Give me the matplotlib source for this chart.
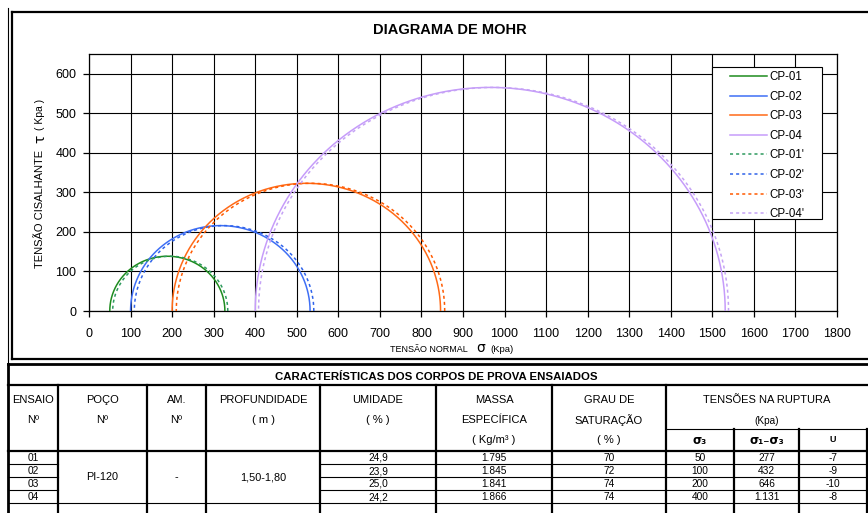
import numpy as np
import matplotlib
matplotlib.use("Agg")
import matplotlib.pyplot as plt
from matplotlib.patches import Rectangle

plt.rcParams['font.family'] = ['Liberation Sans', 'DejaVu Sans']

# ---- ensaios triaxiais ----
ensaios = ["01", "02", "03", "04"]
poco = "PI-120"
amostra = "-"
profundidade = "1,50-1,80"
umidade = [24.9, 23.9, 25.0, 24.2]
massa_especifica = [1795, 1845, 1841, 1866]
grau_saturacao = [70, 72, 74, 74]
sigma3 = [50, 100, 200, 400]            # kPa
desviadora = [277, 432, 646, 1131]      # sigma1 - sigma3, kPa
poropressao = [-7, -9, -10, -8]         # u, kPa

rotulos_totais = ["CP-01", "CP-02", "CP-03", "CP-04"]
rotulos_efetivos = ["CP-01'", "CP-02'", "CP-03'", "CP-04'"]
cores_totais = ["#1e8c1e", "#3f6ff5", "#ff6a17", "#c69cfa"]
cores_efetivas = ["#2e9a5e", "#2f63ea", "#ff5a00", "#c5a3f5"]

W, H = 868, 513
fig = plt.figure(figsize=(W / 100, H / 100), dpi=100)


def fx(px):
    return px / W


def fy(py):
    return 1 - py / H


# canvas in pixel units for frames and the table
bg = fig.add_axes([0, 0, 1, 1])
bg.set_xlim(0, W)
bg.set_ylim(H, 0)
bg.axis("off")

THICK = 1.6
THIN = 0.8

# outer frame of the chart block
bg.plot([8, 8], [8, 364], color="black", lw=THIN)
bg.plot([12, 12], [12, 359], color="black", lw=THICK)
bg.plot([12, W], [12, 12], color="black", lw=THICK)
bg.plot([12, W], [359, 359], color="black", lw=THICK)

# ---- Mohr diagram ----
ax = fig.add_axes([fx(89), fy(311), fx(837) - fx(89), fy(54) - fy(311)])
theta = np.linspace(0, np.pi, 500)
handles = []
for s3, d, c, lab in zip(sigma3, desviadora, cores_totais, rotulos_totais):
    centro, raio = s3 + d / 2, d / 2
    h, = ax.plot(centro + raio * np.cos(theta), raio * np.sin(theta),
                 color=c, lw=1.1, label=lab, zorder=3)
    handles.append(h)
for s3, d, u, c, lab in zip(sigma3, desviadora, poropressao,
                            cores_efetivas, rotulos_efetivos):
    s3_ef = s3 - u
    centro, raio = s3_ef + d / 2, d / 2
    h, = ax.plot(centro + raio * np.cos(theta), raio * np.sin(theta),
                 color=c, lw=1.1, ls=(0, (2, 2)), label=lab, zorder=3)
    handles.append(h)

ax.set_xlim(0, 1800)
ax.set_ylim(0, 650)
ax.set_xticks(np.arange(0, 1801, 100))
ax.set_yticks(np.arange(0, 601, 100))
ax.grid(True, color="black", lw=0.8)
ax.set_axisbelow(True)
for sp in ax.spines.values():
    sp.set_color("black")
    sp.set_linewidth(0.9)
ax.tick_params(axis="both", direction="out", length=4, width=0.9,
               labelsize=9, colors="black")
ax.tick_params(axis="x", pad=8)
ax.tick_params(axis="y", pad=5)

# legend box
frame = Rectangle((fx(712), fy(219)), fx(822) - fx(712), fy(67) - fy(219),
                  transform=fig.transFigure, facecolor="white",
                  edgecolor="black", lw=0.8, zorder=4)
ax.add_artist(frame)
frame.set_clip_on(False)
leg = ax.legend(handles=handles, loc="upper left",
                bbox_to_anchor=(fx(730), fy(71)),
                bbox_transform=fig.transFigure, frameon=False,
                fontsize=8.3, borderpad=0, borderaxespad=0,
                handlelength=3.2, handletextpad=0.2, labelspacing=0.66)
leg.set_zorder(5)

fig.text(fx(450), fy(30), "DIAGRAMA DE MOHR", ha="center", va="center",
         fontsize=10.5, fontweight="bold")

# axis titles
fig.text(fx(468), fy(349), "TENSÃO NORMAL", ha="right", va="center",
         fontsize=6.5)
fig.text(fx(481), fy(348), "σ", ha="center", va="center", fontsize=10,
         family=["DejaVu Sans"])
fig.text(fx(490), fy(349), "(Kpa)", ha="left", va="center", fontsize=6.8)

fig.text(fx(40), fy(268), "TENSÃO CISALHANTE", ha="center", va="bottom",
         rotation=90, fontsize=8)
fig.text(fx(40), fy(139), "τ", ha="center", va="center", rotation=90,
         fontsize=10, family=["DejaVu Sans"])
fig.text(fx(40), fy(130), "( Kpa )", ha="center", va="bottom", rotation=90,
         fontsize=7.5)

# ---- table of specimens ----
cols = [8, 58, 147, 206, 320, 436, 552, 666, 734, 799, 867]
t_top, t_title, t_sub, t_data = 364, 385, 429, 451
row_h = 13
rows = [t_data + i * row_h for i in range(len(ensaios) + 1)]
t_bot = H

bg.plot([8, W], [t_top, t_top], color="black", lw=THICK + 0.4)
bg.plot([8, W], [t_title, t_title], color="black", lw=THICK)
bg.plot([8, W], [t_data, t_data], color="black", lw=THICK)
bg.plot([cols[7], W], [t_sub, t_sub], color="black", lw=THIN)
bg.plot([8, 8], [t_top, t_bot], color="black", lw=THICK + 0.4)
for x in cols[1:8]:
    bg.plot([x, x], [t_title, t_bot], color="black", lw=THICK)
for x in cols[8:10]:
    bg.plot([x, x], [t_sub, t_bot], color="black", lw=THICK)
bg.plot([cols[-1], cols[-1]], [t_sub, t_bot], color="black", lw=THICK)
# row separators (merged cells in POÇO / AM. / PROFUNDIDADE)
for y in rows[1:-1]:
    bg.plot([cols[0], cols[1]], [y, y], color="black", lw=THIN)
    bg.plot([cols[4], cols[-1]], [y, y], color="black", lw=THIN)
bg.plot([cols[0], cols[-1]], [rows[-1], rows[-1]], color="black", lw=THIN)

bg.text(436, 377, "CARACTERÍSTICAS DOS CORPOS DE PROVA ENSAIADOS",
        ha="center", va="center", fontsize=8.2, fontweight="bold")


def centro_col(i):
    return (cols[i] + cols[i + 1]) / 2


cabecalhos = [["ENSAIO", "Nº"], ["POÇO", "Nº"], ["AM.", "Nº"],
              ["PROFUNDIDADE", "( m )"], ["UMIDADE", "( % )"],
              ["MASSA", "ESPECÍFICA", "( Kg/m³ )"],
              ["GRAU DE", "SATURAÇÃO", "( % )"]]
linhas_y = [400, 420, 440]
for i, cab in enumerate(cabecalhos):
    for j, txt in enumerate(cab):
        bg.text(centro_col(i), linhas_y[j], txt, ha="center", va="center",
                fontsize=8)
bg.text((cols[7] + cols[-1]) / 2, 400, "TENSÕES NA RUPTURA", ha="center",
        va="center", fontsize=8)
bg.text((cols[7] + cols[-1]) / 2, 421, "(Kpa)", ha="center", va="center",
        fontsize=7.2)
for i, txt in zip([7, 8], ["σ₃", "σ₁₋σ₃"]):
    bg.text(centro_col(i), 440, txt, ha="center", va="center", fontsize=8.5,
            fontweight="bold", family=["DejaVu Sans"])
bg.text(centro_col(9), 440, "U", ha="center", va="center", fontsize=6.5,
        fontweight="bold")


def milhar(v):
    return f"{v:,}".replace(",", ".")


centros_y = [(rows[k] + rows[k + 1]) / 2 for k in range(len(ensaios))]
for k, yc in enumerate(centros_y):
    valores = [ensaios[k], None, None, None,
               f"{umidade[k]:.1f}".replace(".", ","),
               milhar(massa_especifica[k]), str(grau_saturacao[k]),
               str(sigma3[k]), milhar(desviadora[k]), str(poropressao[k])]
    for i, v in enumerate(valores):
        if v is not None:
            bg.text(centro_col(i), yc + 0.5, v, ha="center", va="center",
                    fontsize=7.3)

y_merge = (rows[0] + rows[-1]) / 2
bg.text(centro_col(1), y_merge, poco, ha="center", va="center", fontsize=7.8)
bg.text(centro_col(2), y_merge, amostra, ha="center", va="center", fontsize=7.8)
bg.text(centro_col(3), y_merge, profundidade, ha="center", va="center",
        fontsize=7.8)

fig.savefig("out.png", dpi=100)
